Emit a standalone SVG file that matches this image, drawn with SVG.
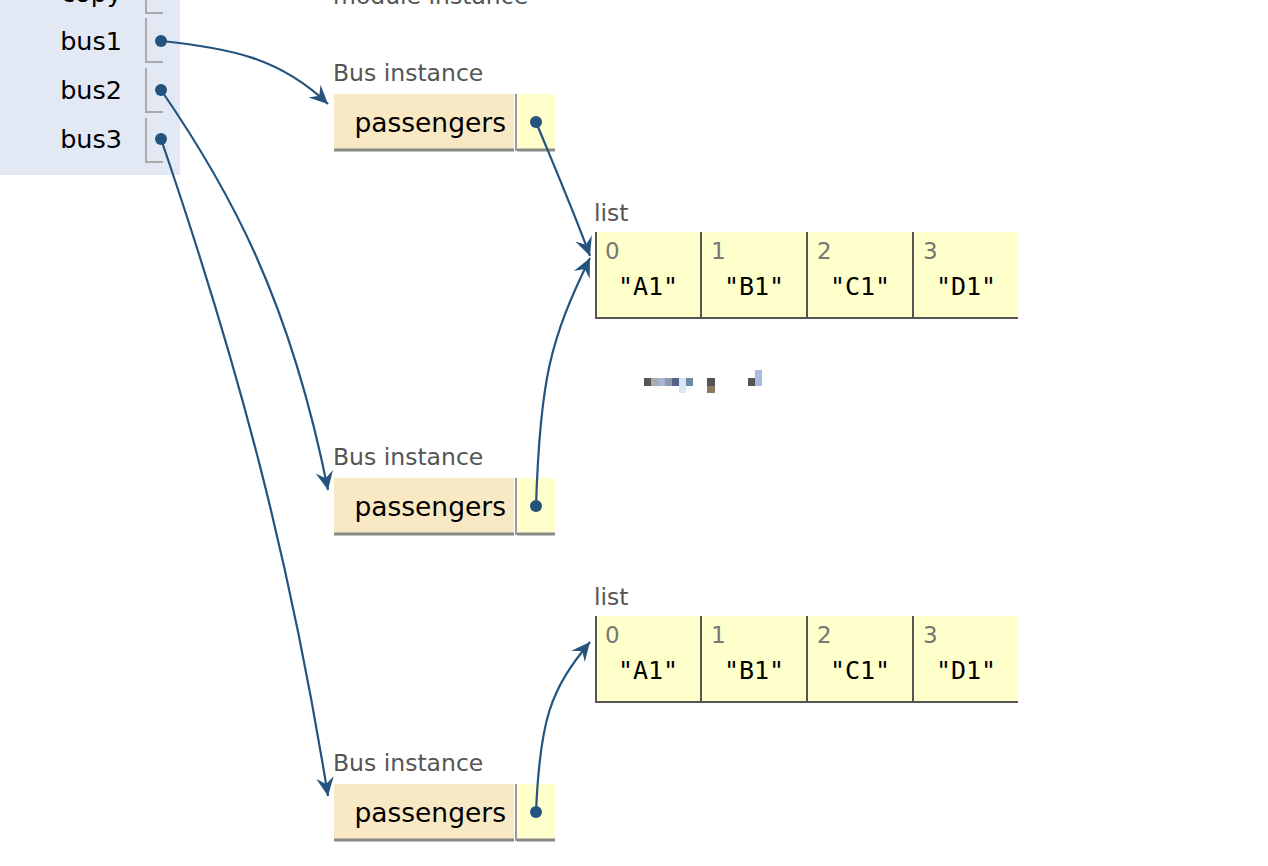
<svg xmlns="http://www.w3.org/2000/svg" width="1268" height="866" viewBox="0 0 1268 866">
<style>
.var{font-family:"DejaVu Sans","Liberation Sans",sans-serif;font-size:25.5px;fill:#000;text-anchor:end}
.lbl{font-family:"DejaVu Sans","Liberation Sans",sans-serif;font-size:23.5px;fill:#555}
.key{font-family:"DejaVu Sans","Liberation Sans",sans-serif;font-size:26.5px;fill:#000;text-anchor:end}
.idx{font-family:"DejaVu Sans","Liberation Sans",sans-serif;font-size:23px;fill:#777}
.val{font-family:"DejaVu Sans Mono","Liberation Mono",monospace;font-size:25px;fill:#000;text-anchor:middle}
.rowb{fill:none;stroke:#aaa;stroke-width:2}
.keyc{fill:#f8e9c4}
.valc{fill:#ffffcc}
.ibord{stroke:#888;stroke-width:3;fill:none}
.lbord{stroke:#555;stroke-width:2;fill:none}
.dot{fill:#24547e}
.conn{fill:none;stroke:#24547e;stroke-width:2.2}
</style>
<defs>
<marker id="ah" markerUnits="userSpaceOnUse" markerWidth="22" markerHeight="22" viewBox="-18 -9 20 18" refX="0" refY="0" orient="auto">
<path d="M-17,-8 L0,0 L-17,8 L-11,0 Z" fill="#24547e"/>
</marker>
</defs>
<rect width="1268" height="866" fill="#fff"/>
<g id="frame">
<rect x="0" y="0" width="180" height="175" fill="#e2e9f4"/>
<text class="var" x="122" y="2">copy</text>
<path class="rowb" d="M146,-10 V13 H163"/>
<text class="var" x="122" y="50">bus1</text>
<path class="rowb" d="M146,18 V62 H163"/>
<circle class="dot" cx="161" cy="41" r="6"/>
<text class="var" x="122" y="99">bus2</text>
<path class="rowb" d="M146,68 V112 H163"/>
<circle class="dot" cx="161" cy="90" r="6"/>
<text class="var" x="122" y="148">bus3</text>
<path class="rowb" d="M146,118 V162 H163"/>
<circle class="dot" cx="161" cy="139" r="6"/>
</g>
<g id="module">
<text class="lbl" x="333" y="4">module instance</text>
</g>
<g id="bus_a">
<text class="lbl" x="333" y="81">Bus instance</text>
<rect class="keyc" x="334" y="94" width="180" height="56"/>
<rect class="valc" x="517" y="94" width="38" height="56"/>
<line class="ibord" x1="334" y1="150" x2="514" y2="150"/>
<line class="ibord" x1="517" y1="150" x2="555" y2="150"/>
<line x1="516" y1="94" x2="516" y2="151" stroke="#999" stroke-width="2"/>
<text class="key" x="506" y="132">passengers</text>
<circle class="dot" cx="536" cy="122" r="6"/>
</g>
<g id="bus_b">
<text class="lbl" x="333" y="465">Bus instance</text>
<rect class="keyc" x="334" y="478" width="180" height="56"/>
<rect class="valc" x="517" y="478" width="38" height="56"/>
<line class="ibord" x1="334" y1="534" x2="514" y2="534"/>
<line class="ibord" x1="517" y1="534" x2="555" y2="534"/>
<line x1="516" y1="478" x2="516" y2="535" stroke="#999" stroke-width="2"/>
<text class="key" x="506" y="516">passengers</text>
<circle class="dot" cx="536" cy="506" r="6"/>
</g>
<g id="bus_c">
<text class="lbl" x="333" y="771">Bus instance</text>
<rect class="keyc" x="334" y="784" width="180" height="56"/>
<rect class="valc" x="517" y="784" width="38" height="56"/>
<line class="ibord" x1="334" y1="840" x2="514" y2="840"/>
<line class="ibord" x1="517" y1="840" x2="555" y2="840"/>
<line x1="516" y1="784" x2="516" y2="841" stroke="#999" stroke-width="2"/>
<text class="key" x="506" y="822">passengers</text>
<circle class="dot" cx="536" cy="812" r="6"/>
</g>
<g id="list_a">
<text class="lbl" x="594" y="221">list</text>
<rect class="valc" x="595" y="232" width="422" height="86"/>
<path class="lbord" d="M596,232 V319 M701,232 V319 M807,232 V319 M913,232 V319 M595,318 H1018"/>
<text class="idx" x="605" y="259">0</text>
<text class="idx" x="711" y="259">1</text>
<text class="idx" x="817" y="259">2</text>
<text class="idx" x="923" y="259">3</text>
<text class="val" x="648" y="295">"A1"</text>
<text class="val" x="754" y="295">"B1"</text>
<text class="val" x="860" y="295">"C1"</text>
<text class="val" x="966" y="295">"D1"</text>
</g>
<g id="list_b">
<text class="lbl" x="594" y="605">list</text>
<rect class="valc" x="595" y="616" width="422" height="86"/>
<path class="lbord" d="M596,616 V703 M701,616 V703 M807,616 V703 M913,616 V703 M595,702 H1018"/>
<text class="idx" x="605" y="643">0</text>
<text class="idx" x="711" y="643">1</text>
<text class="idx" x="817" y="643">2</text>
<text class="idx" x="923" y="643">3</text>
<text class="val" x="648" y="679">"A1"</text>
<text class="val" x="754" y="679">"B1"</text>
<text class="val" x="860" y="679">"C1"</text>
<text class="val" x="966" y="679">"D1"</text>
</g>
<g id="artifact">
<rect x="644" y="378" width="7" height="8" fill="#555"/>
<rect x="651" y="378" width="7" height="8" fill="#aaa"/>
<rect x="658" y="378" width="7" height="8" fill="#a9b5d6"/>
<rect x="665" y="378" width="7" height="8" fill="#8a9aa6"/>
<rect x="672" y="378" width="7" height="8" fill="#56628a"/>
<rect x="679" y="378" width="7" height="15" fill="#d6e8f8"/>
<rect x="686" y="378" width="7" height="8" fill="#6e8aa0"/>
<rect x="707" y="378" width="8" height="8" fill="#555"/>
<rect x="707" y="386" width="8" height="7" fill="#8a7a60"/>
<rect x="748" y="378" width="7" height="8" fill="#555"/>
<rect x="755" y="370" width="7" height="16" fill="#a9bbe0"/>
</g>
<g id="connectors">
<path class="conn" marker-end="url(#ah)" d="M161,41 C230,48 280,58 328,104"/>
<path class="conn" marker-end="url(#ah)" d="M161,90 C230,190 290,300 328,490"/>
<path class="conn" marker-end="url(#ah)" d="M161,139 C240,370 290,560 328,796"/>
<path class="conn" marker-end="url(#ah)" d="M536,122 C560,180 575,215 590,256"/>
<path class="conn" marker-end="url(#ah)" d="M536,506 C540,380 550,340 590,258"/>
<path class="conn" marker-end="url(#ah)" d="M536,812 C540,720 550,690 590,642"/>
</g>
</svg>
